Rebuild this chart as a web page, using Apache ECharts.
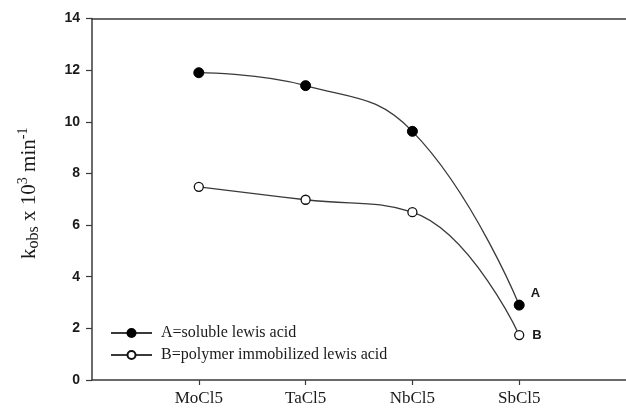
<!DOCTYPE html>
<html><head><meta charset="utf-8">
<script src="https://cdn.jsdelivr.net/npm/echarts@6/dist/echarts.min.js"></script>
<style>html,body{margin:0;padding:0;background:#fff}#c{width:626px;height:413px}</style>
</head><body><div id="c"></div>
<script>
var categories = ['MoCl5', 'TaCl5', 'NbCl5', 'SbCl5'];
var solubleA = [11.9, 11.4, 9.63, 2.9];
var polymerB = [7.48, 6.98, 6.5, 1.74];
var seriesNames = ['A=soluble lewis acid', 'B=polymer immobilized lewis acid'];
var endLabels = ['A', 'B'];
var yTicks = [0, 2, 4, 6, 8, 10, 12, 14];

function toPoints(vals, tag) {
  return vals.map(function (v, i) {
    var item = { value: [i + 1, v] };
    if (i === vals.length - 1) {
      item.label = { show: true, formatter: tag };
    }
    return item;
  });
}
var axisColor = '#3a3a3a';
var chart = echarts.init(document.getElementById('c'));
chart.setOption({
  animation: false,
  backgroundColor: '#fff',
  grid: { left: 92, top: 18.5, right: 0, bottom: 33, containLabel: false },
  xAxis: [{
    type: 'value', min: 0, max: categories.length + 1, interval: 1,
    axisLine: { lineStyle: { color: axisColor, width: 1.5 } },
    axisTick: { show: true, length: 5, customValues: categories.map(function (c, i) { return i + 1; }), lineStyle: { color: axisColor, width: 1.2 } },
    axisLabel: { customValues: categories.map(function (c, i) { return i + 1; }), formatter: function (v) { return categories[v - 1] || ''; },
      fontFamily: 'Liberation Serif', fontSize: 17, color: '#1a1a1a', margin: 10 },
    splitLine: { show: false }
  }, {
    type: 'value', position: 'top', min: 0, max: categories.length + 1,
    axisLine: { show: true, onZero: false, lineStyle: { color: axisColor, width: 1.5 } },
    axisTick: { show: false }, axisLabel: { show: false }, splitLine: { show: false }
  }],
  yAxis: {
    type: 'value', min: yTicks[0], max: yTicks[yTicks.length - 1], interval: 2,
    axisLine: { show: true, lineStyle: { color: axisColor, width: 1.5 } },
    axisTick: { show: true, length: 6, lineStyle: { color: axisColor, width: 1.2 } },
    axisLabel: { fontFamily: 'Liberation Sans', fontWeight: 'bold', fontSize: 14, color: '#1a1a1a', margin: 12 },
    splitLine: { show: false },
    name: '{n|k}{sub|obs}{n| x 10}{sup|3}{n| min}{sup|-1}',
    nameLocation: 'middle', nameRotate: 90, nameGap: 50,
    nameTextStyle: {
      padding: [0, 0, 0, 12],
      rich: {
        n: { fontFamily: 'Liberation Serif', fontSize: 21, color: '#1a1a1a' },
        sub: { fontFamily: 'Liberation Serif', fontSize: 16, color: '#1a1a1a', padding: [10, 0, 0, 0] },
        sup: { fontFamily: 'Liberation Serif', fontSize: 14, color: '#1a1a1a', padding: [0, 0, 11, 0] }
      }
    }
  },
  legend: {
    left: 105, top: 320, orient: 'vertical', itemWidth: 41, itemHeight: 10, itemGap: 6,
    textStyle: { fontFamily: 'Liberation Serif', fontSize: 16, color: '#1a1a1a', padding: [0, 0, 0, 4] },
    data: seriesNames
  },
  series: [{
    name: seriesNames[0], type: 'line', smooth: 0.45,
    data: toPoints(solubleA, endLabels[0]),
    symbol: 'circle', symbolSize: 10,
    itemStyle: { color: '#000', borderColor: '#000', borderWidth: 1 },
    lineStyle: { color: '#3a3a3a', width: 1.3 },
    label: { position: 'right', distance: 6, offset: [0, -12], fontFamily: 'Liberation Sans', fontWeight: 'bold', fontSize: 13, color: '#1a1a1a' }
  }, {
    name: seriesNames[1], type: 'line', smooth: 0.45,
    data: toPoints(polymerB, endLabels[1]),
    symbol: 'circle', symbolSize: 9,
    itemStyle: { color: '#fff', borderColor: '#111', borderWidth: 1.3 },
    lineStyle: { color: '#3a3a3a', width: 1.3 },
    label: { position: 'right', distance: 8, offset: [0, 0], fontFamily: 'Liberation Sans', fontWeight: 'bold', fontSize: 13, color: '#1a1a1a' }
  }]
});
</script></body></html>
